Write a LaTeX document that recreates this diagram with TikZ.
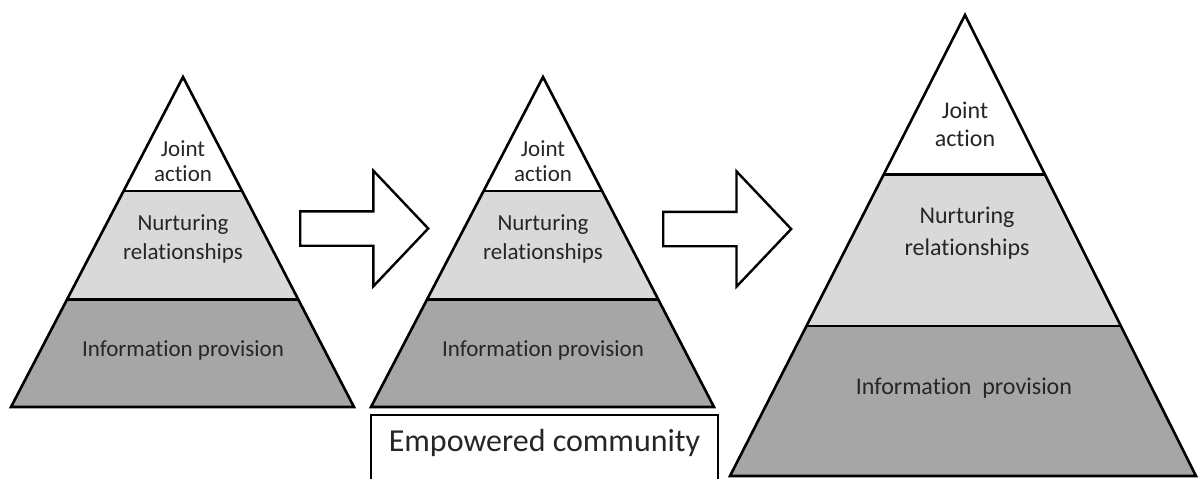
\documentclass[tikz,border=0pt]{standalone}
\usepackage{fontspec}
\setmainfont[Ligatures=NoCommon]{Carlito}
\usetikzlibrary{calc,positioning,shapes.arrows}
\definecolor{bandlight}{HTML}{D9D9D9}
\definecolor{banddark}{HTML}{A6A6A6}
\definecolor{labelgray}{HTML}{262626}
\tikzset{
        outline/.style={draw=black, line width=2.6pt, line join=miter}, % pyramid edges and band borders
        layer text/.style={
		align=center,
		text=labelgray,
		inner sep=0pt,
		font=\fontsize{23}{25}\selectfont,
	  },
  		block arrow/.style={
    	single arrow, draw=black, fill=white, line width=2.4pt,
    	inner sep=0pt, text height=16pt, text depth=16pt,
    	single arrow head extend=40.5pt, single arrow tip angle=93,
    	minimum height=128pt, anchor=tail,
      },
        community box/.style={
        draw=black, line width=1.5pt, anchor=north, text=labelgray,
        minimum width=347pt, inner ysep=0pt,
        text height=37pt, text depth=60pt,
        font=\fontsize{32}{36}\selectfont,
      }
  	}

\begin{document}
\begin{tikzpicture}[x=1pt, y=-1pt]
    \useasboundingbox (0,0) rectangle (1200,479);
    % corners of the three pyramids
    \coordinate (apex1) at (183,77);
    \coordinate (left1) at (11,407);
    \coordinate (right1) at (354,407);
    \coordinate (apex2) at (543,77);
    \coordinate (left2) at (371,407);
    \coordinate (right2) at (714,407);
    \coordinate (apex3) at (965,15);
    \coordinate (left3) at (730,476);
    \coordinate (right3) at (1196,476);
    \foreach \i in {1,2,3} {
      \fill[banddark] ($(apex\i)!.675!(left\i)$) -- (left\i) -- (right\i) -- ($(apex\i)!.675!(right\i)$) -- cycle;
      \fill[bandlight] ($(apex\i)!.346!(left\i)$) -- ($(apex\i)!.675!(left\i)$) -- ($(apex\i)!.675!(right\i)$) -- ($(apex\i)!.346!(right\i)$) -- cycle;
      \draw[outline] ($(apex\i)!.346!(left\i)$) -- ($(apex\i)!.346!(right\i)$);
      \draw[outline] ($(apex\i)!.675!(left\i)$) -- ($(apex\i)!.675!(right\i)$);
      \draw[outline] (apex\i) -- (left\i) -- (right\i) -- cycle;
    }
    \node [layer text] (joint1) at (183,161) {Joint\\action};
    \node [layer text, font=\fontsize{23}{29}\selectfont] (nurture1) at (183,239) {Nurturing\\relationships};
    \node [layer text] (info1) at (183,350) {Information provision};
    \node [layer text] (joint2) at (543,161) {Joint\\action};
    \node [layer text, font=\fontsize{23}{29}\selectfont] (nurture2) at (543,239) {Nurturing\\relationships};
    \node [layer text] (info2) at (543,350) {Information provision};
    \node [layer text, font=\fontsize{24}{28}\selectfont] (joint3) at (965,124) {Joint\\action};
    \node [layer text, font=\fontsize{24}{32}\selectfont] (nurture3) at (967,233) {Nurturing\\relationships};
    \node [layer text, font=\fontsize{24}{26}\selectfont] (info3) at (964,388) {Information~~provision};
    % the two steps between the pyramids
    \node [block arrow] (shift1) at (299,228.5) {};
    \node [block arrow] (shift2) at (662,229) {};
    \node [community box] (community) at (544.5,414) {Empowered community};
  \end{tikzpicture}
\end{document}
